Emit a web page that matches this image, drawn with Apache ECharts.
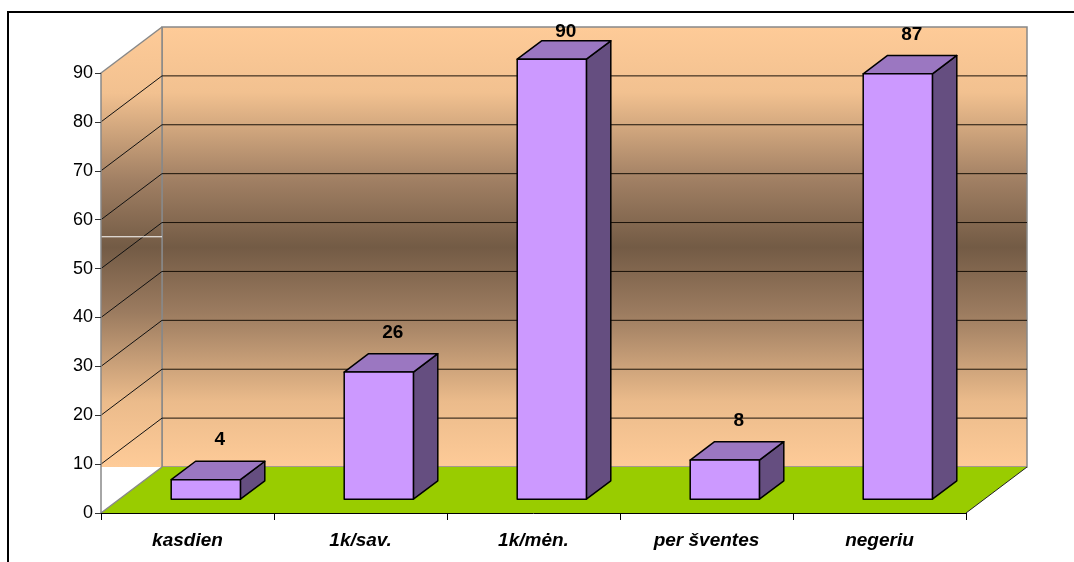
<!DOCTYPE html>
<html>
<head>
<meta charset="utf-8">
<script src="https://cdn.jsdelivr.net/npm/echarts@6/dist/echarts.min.js"></script>
<style>
html,body{margin:0;padding:0;background:#fff;}
#chart{width:1074px;height:562px;}
</style>
</head>
<body>
<div id="chart"></div>
<script>
const categories = ['kasdien', '1k/sav.', '1k/mėn.', 'per šventes', 'negeriu'];
const values = [4, 26, 90, 8, 87];
const yMin = 0, yMax = 90, yStep = 10;

const FONT = '"Liberation Sans", Arial, sans-serif';
const DX = 61, DY = -46;           // depth of the 3D box
const BAR_FRONT = 0.3, BAR_BACK = 0.7, BAR_W = 0.4;

const wallGradient = {
  type: 'linear', x: 0, y: 0, x2: 0, y2: 1,
  colorStops: [
    {offset: 0, color: '#FECB98'},
    {offset: 0.15, color: '#F2C190'},
    {offset: 0.35, color: '#A07F63'},
    {offset: 0.5, color: '#735B45'},
    {offset: 0.65, color: '#9C7C60'},
    {offset: 0.85, color: '#EBBB8B'},
    {offset: 1, color: '#FECB98'}
  ]
};

function renderWalls(params, api) {
  const band = api.size([1, 0])[0];
  const x0 = api.coord([0, yMin])[0] - band / 2;
  const x1 = api.coord([categories.length - 1, yMin])[0] + band / 2;
  const y0 = api.coord([0, yMin])[1];
  const yT = api.coord([0, yMax])[1];
  const ch = [];
  ch.push({type: 'rect', shape: {x: x0 + DX, y: yT + DY, width: x1 - x0, height: y0 - yT},
    style: {fill: wallGradient, stroke: '#888', lineWidth: 1.5}});
  ch.push({type: 'polygon', shape: {points: [[x0, y0 + DY], [x0, yT], [x0 + DX, yT + DY], [x0 + DX, y0 + DY]]},
    style: {fill: wallGradient, stroke: null}});
  ch.push({type: 'polygon', shape: {points: [[x0, y0], [x1, y0], [x1 + DX, y0 + DY], [x0 + DX, y0 + DY]]},
    style: {fill: '#99CC00', stroke: null}});
  ch.push({type: 'line', shape: {x1: x1, y1: y0, x2: x1 + DX, y2: y0 + DY}, style: {stroke: '#222', lineWidth: 1}});
  ch.push({type: 'line', shape: {x1: x0, y1: y0, x2: x0 + DX, y2: y0 + DY}, style: {stroke: '#888', lineWidth: 1.5}});
  ch.push({type: 'line', shape: {x1: x0, y1: yT, x2: x0 + DX, y2: yT + DY}, style: {stroke: '#888', lineWidth: 1.5}});
  ch.push({type: 'line', shape: {x1: x0 + DX, y1: yT + DY, x2: x0 + DX, y2: y0 + DY}, style: {stroke: '#888', lineWidth: 1.5}});
  for (let v = yMin + yStep; v < yMax; v += yStep) {
    const y = api.coord([0, v])[1];
    ch.push({type: 'line', shape: {x1: x0, y1: y, x2: x0 + DX, y2: y + DY}, style: {stroke: '#111', lineWidth: 1}});
    ch.push({type: 'line', shape: {x1: x0 + DX, y1: y + DY, x2: x1 + DX, y2: y + DY}, style: {stroke: '#1a1209', lineWidth: 1}});
  }
  const yw = api.coord([0, 56.5])[1];
  ch.push({type: 'line', shape: {x1: x0, y1: yw, x2: x0 + DX, y2: yw}, style: {stroke: '#fff', lineWidth: 1}});
  return {type: 'group', children: ch};
}

function renderBar(params, api) {
  const i = api.value(0), v = api.value(1);
  const band = api.size([1, 0])[0];
  const base = api.coord([i, yMin]);
  const top = api.coord([i, v]);
  const w = band * BAR_W;
  const L = base[0] - w / 2, R = base[0] + w / 2;
  const ax = DX * BAR_FRONT, ay = DY * BAR_FRONT, bx = DX * BAR_BACK, by = DY * BAR_BACK;
  const yb = base[1], yt = top[1];
  const st = {stroke: '#000', lineWidth: 1.5, lineJoin: 'round'};
  const ly = Math.max(yt + by - 21, 32);
  return {type: 'group', children: [
    {type: 'polygon', shape: {points: [[R + ax, yt + ay], [R + bx, yt + by], [R + bx, yb + by], [R + ax, yb + ay]]},
      style: Object.assign({fill: '#654E80'}, st)},
    {type: 'polygon', shape: {points: [[L + ax, yt + ay], [R + ax, yt + ay], [R + bx, yt + by], [L + bx, yt + by]]},
      style: Object.assign({fill: '#9B77C1'}, st)},
    {type: 'rect', shape: {x: L + ax, y: yt + ay, width: w, height: yb - yt},
      style: Object.assign({fill: '#CC99FF'}, st)},
    {type: 'text', x: base[0] + ax + 14, y: ly,
      style: {text: String(v), fill: '#000', font: 'bold 19px ' + FONT, align: 'center', verticalAlign: 'middle'}}
  ]};
}

const chart = echarts.init(document.getElementById('chart'), null, {renderer: 'canvas'});
chart.setOption({
  animation: false,
  backgroundColor: '#fff',
  graphic: [{type: 'rect', z: 100, shape: {x: 8, y: 12, width: 1200, height: 700},
    style: {fill: null, stroke: '#000', lineWidth: 2}}],
  grid: {left: 101, right: 108, top: 73, bottom: 49, containLabel: false},
  xAxis: {
    type: 'category', data: categories, z: 10,
    axisLine: {show: true, lineStyle: {color: '#000', width: 1}},
    axisTick: {show: true, interval: 0, length: 7, lineStyle: {color: '#000'}},
    axisLabel: {interval: 0, margin: 18, color: '#000', fontFamily: FONT, fontSize: 19, fontWeight: 'bold', fontStyle: 'italic'},
    splitLine: {show: false}
  },
  yAxis: {
    type: 'value', min: yMin, max: yMax, interval: yStep, z: 10,
    axisLine: {show: true, lineStyle: {color: '#888', width: 1.5}},
    axisTick: {show: true, length: 6, lineStyle: {color: '#333'}},
    axisLabel: {margin: 8, color: '#000', fontFamily: FONT, fontSize: 18},
    splitLine: {show: false}
  },
  series: [
    {type: 'custom', z: 1, clip: false, renderItem: renderWalls, data: [[0, 0]], silent: true},
    {type: 'custom', z: 3, clip: false, renderItem: renderBar, data: values.map((v, i) => [i, v])}
  ]
});
</script>
</body>
</html>
